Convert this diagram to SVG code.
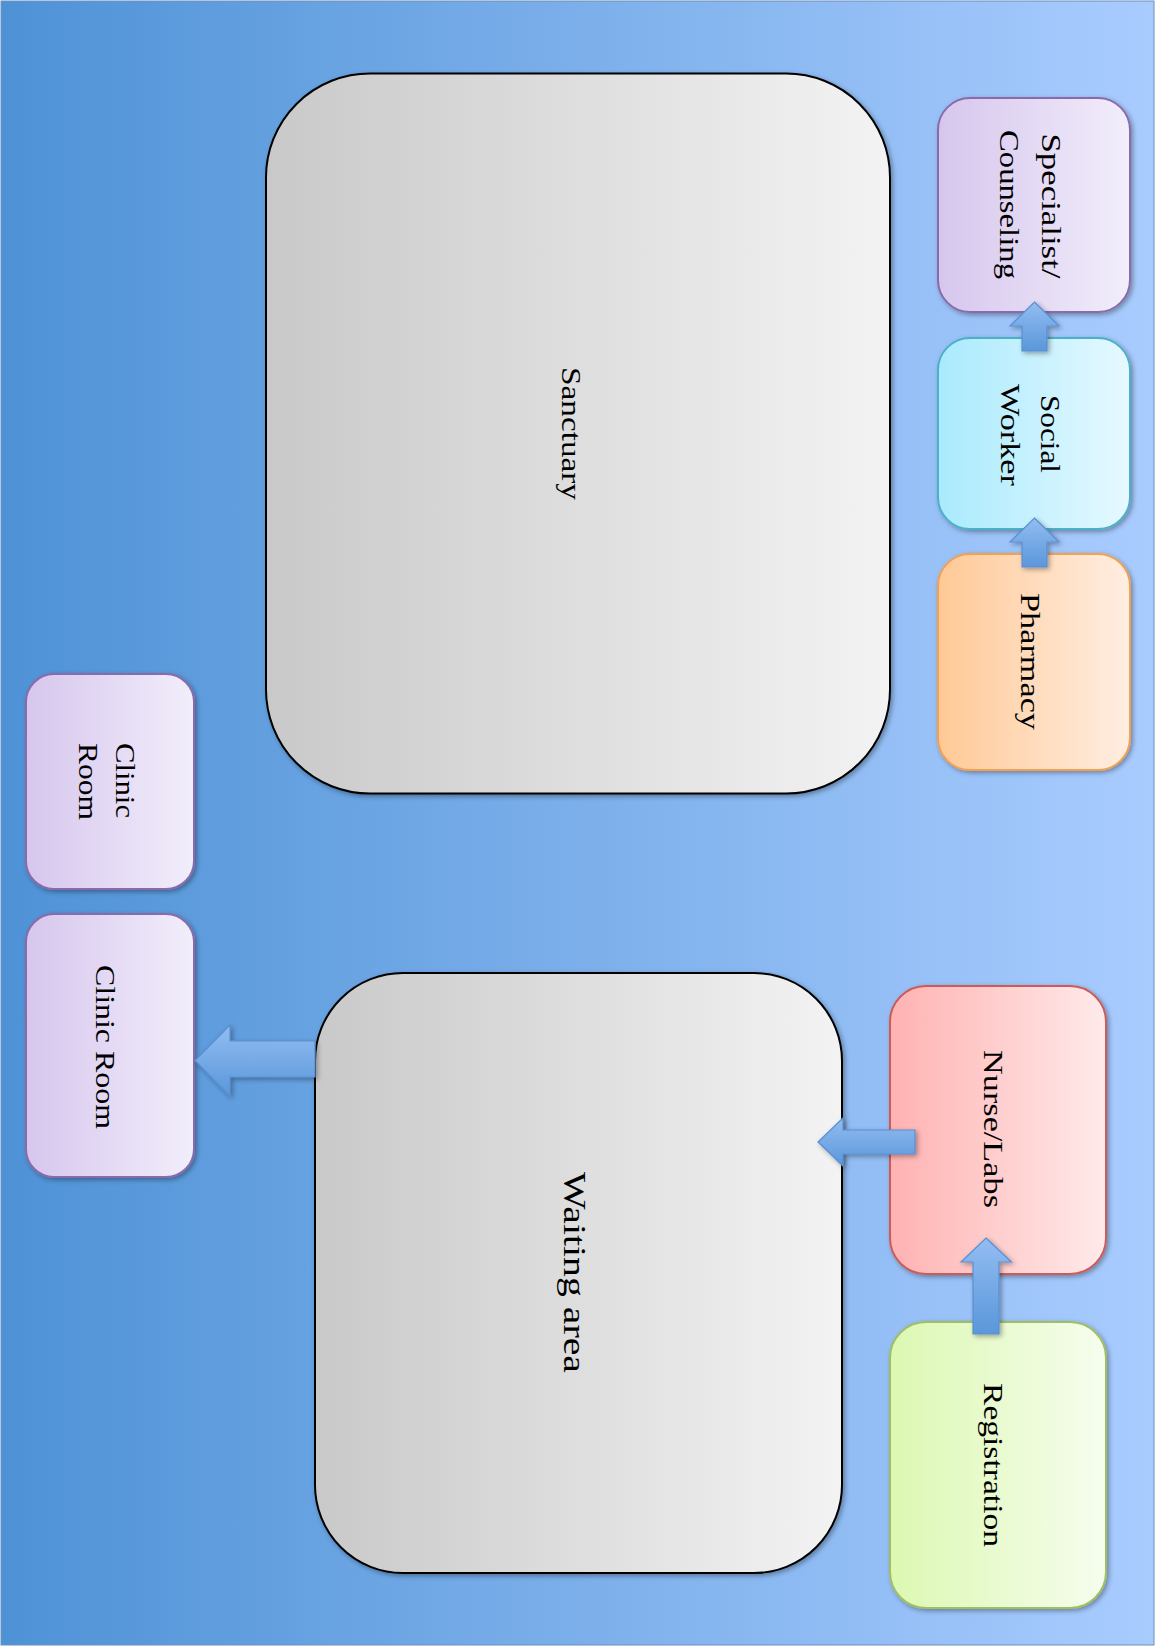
<svg xmlns="http://www.w3.org/2000/svg" width="1155" height="1647" viewBox="0 0 1155 1647">
<defs>
<linearGradient id="bg" x1="0" y1="0" x2="1" y2="0"><stop offset="0" stop-color="#4e92d6"/><stop offset="1" stop-color="#a9ccff"/></linearGradient>
<linearGradient id="gGray" x1="0" y1="0" x2="1" y2="0"><stop offset="0" stop-color="#c9c9c9"/><stop offset="1" stop-color="#f3f3f3"/></linearGradient>
<linearGradient id="gPurple" x1="0" y1="0" x2="1" y2="0"><stop offset="0" stop-color="#d6c6ed"/><stop offset="1" stop-color="#f2eefb"/></linearGradient>
<linearGradient id="gCyan" x1="0" y1="0" x2="1" y2="0"><stop offset="0" stop-color="#a9eafd"/><stop offset="1" stop-color="#e6f9ff"/></linearGradient>
<linearGradient id="gOrange" x1="0" y1="0" x2="1" y2="0"><stop offset="0" stop-color="#ffc996"/><stop offset="1" stop-color="#ffeee2"/></linearGradient>
<linearGradient id="gRed" x1="0" y1="0" x2="1" y2="0"><stop offset="0" stop-color="#ffb2b2"/><stop offset="1" stop-color="#ffeaea"/></linearGradient>
<linearGradient id="gGreen" x1="0" y1="0" x2="1" y2="0"><stop offset="0" stop-color="#dcf8b2"/><stop offset="1" stop-color="#f6fdee"/></linearGradient>
<linearGradient id="gArrow" x1="0" y1="0" x2="0" y2="1"><stop offset="0" stop-color="#93bdf2"/><stop offset="1" stop-color="#5a97da"/></linearGradient>
<filter id="sh" x="-10%" y="-10%" width="130%" height="130%"><feDropShadow dx="2" dy="2" stdDeviation="2.5" flood-color="#000" flood-opacity="0.35"/></filter>
</defs>
<style>
.big{stroke:#000;stroke-width:2;fill:url(#gGray)}
.purple{fill:url(#gPurple);stroke:#8a6bab;stroke-width:2}
.cyan{fill:url(#gCyan);stroke:#4bb0c8;stroke-width:2}
.orange{fill:url(#gOrange);stroke:#f5a04f;stroke-width:2}
.red{fill:url(#gRed);stroke:#cc5b58;stroke-width:2}
.green{fill:url(#gGreen);stroke:#a0c060;stroke-width:2}
.arrow{fill:url(#gArrow);stroke:#5a8fd0;stroke-width:1.2}
text{font-family:"Liberation Serif","Times New Roman",serif;font-size:27px;fill:#000;text-anchor:middle}
.lg{font-size:31px}
</style>
<rect x="0" y="0" width="1155" height="1647" fill="#ffffff"/>
<rect x="1" y="1" width="1153" height="1644" fill="url(#bg)" stroke="#6d8fbc" stroke-width="1"/>

<g id="sanctuary">
<rect class="big" filter="url(#sh)" x="266" y="73.5" width="624" height="720" rx="104" ry="104"/>
<text transform="translate(562,433.5) rotate(90)" textLength="133" lengthAdjust="spacingAndGlyphs">Sanctuary</text>
</g>
<g id="waiting-area">
<rect class="big" filter="url(#sh)" x="315" y="973" width="527" height="600" rx="88" ry="88"/>
<text class="lg" transform="translate(564,1272.5) rotate(90)" textLength="201" lengthAdjust="spacingAndGlyphs">Waiting area</text>
</g>
<g id="specialist">
<rect class="purple" filter="url(#sh)" x="938" y="98" width="192" height="214" rx="32" ry="32"/>
<text transform="translate(1042,206) rotate(90)" textLength="145" lengthAdjust="spacingAndGlyphs">Specialist/</text>
<text transform="translate(1000,204.5) rotate(90)" textLength="149" lengthAdjust="spacingAndGlyphs">Counseling</text>
</g>
<g id="social-worker">
<rect class="cyan" filter="url(#sh)" x="938" y="338" width="192" height="191" rx="32" ry="32"/>
<text transform="translate(1041,434) rotate(90)" textLength="78" lengthAdjust="spacingAndGlyphs">Social</text>
<text transform="translate(1001,435) rotate(90)" textLength="102" lengthAdjust="spacingAndGlyphs">Worker</text>
</g>
<g id="pharmacy">
<rect class="orange" filter="url(#sh)" x="938" y="554" width="192" height="216" rx="32" ry="32"/>
<text transform="translate(1021,661.5) rotate(90)" textLength="137" lengthAdjust="spacingAndGlyphs">Pharmacy</text>
</g>
<g id="clinic-room-1">
<rect class="purple" filter="url(#sh)" x="26" y="674" width="168" height="215" rx="28" ry="28"/>
<text transform="translate(116,780.5) rotate(90)" textLength="75" lengthAdjust="spacingAndGlyphs">Clinic</text>
<text transform="translate(79,781.5) rotate(90)" textLength="77" lengthAdjust="spacingAndGlyphs">Room</text>
</g>
<g id="clinic-room-2">
<rect class="purple" filter="url(#sh)" x="26" y="914" width="168" height="263" rx="28" ry="28"/>
<text transform="translate(96,1047) rotate(90)" textLength="164" lengthAdjust="spacingAndGlyphs">Clinic Room</text>
</g>
<g id="nurse-labs">
<rect class="red" filter="url(#sh)" x="890" y="986" width="216" height="288" rx="36" ry="36"/>
<text transform="translate(984,1129) rotate(90)" textLength="158" lengthAdjust="spacingAndGlyphs">Nurse/Labs</text>
</g>
<g id="registration">
<rect class="green" filter="url(#sh)" x="890" y="1322" width="216" height="286" rx="36" ry="36"/>
<text transform="translate(984,1465) rotate(90)" textLength="164" lengthAdjust="spacingAndGlyphs">Registration</text>
</g>

<g id="connectors">
<polygon class="arrow" filter="url(#sh)" points="1034.5,302 1059,326 1047,326 1047,351 1022,351 1022,326 1010,326"/>
<polygon class="arrow" filter="url(#sh)" points="1034.5,518 1059,542 1047,542 1047,567 1022,567 1022,542 1010,542"/>
<polygon class="arrow" filter="url(#sh)" points="986,1238 1011.5,1262 999,1262 999,1334 973,1334 973,1262 961,1262"/>
<polygon class="arrow" filter="url(#sh)" points="818,1142 843,1118 843,1130 915,1130 915,1154 843,1154 843,1166"/>
<polygon class="arrow" filter="url(#sh)" points="195,1060.5 230,1025 230,1041 315,1041 315,1077 230,1077 230,1096"/>
</g>
</svg>
